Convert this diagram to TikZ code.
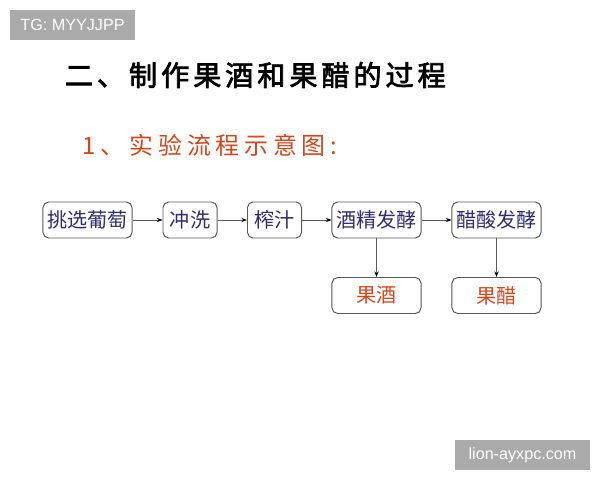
\documentclass[tikz,border=0pt]{standalone}
\usepackage{fontspec}
\setmainfont{Liberation Sans}
\newfontfamily\cjk{Noto Sans CJK SC}
\newfontfamily\cjkheavy[FakeBold=2.5,LetterSpace=14]{Noto Sans CJK SC}
\newfontfamily\cjkspaced[LetterSpace=20]{Noto Sans CJK SC}
\usetikzlibrary{arrows.meta}
\definecolor{navy}{HTML}{2E2D6E}
\definecolor{rust}{HTML}{D2471C}
\definecolor{edge}{HTML}{5A5A5A}
\definecolor{mark}{HTML}{AAAAAA}
\tikzset{
  paso/.style={draw=edge, line width=0.7pt, rounded corners=4pt, minimum height=0.9cm, inner sep=0pt, text=navy, font=\cjk\fontsize{14.3}{16}\selectfont},
  ancho/.style={paso, minimum width=2.225cm},
  corto/.style={paso, minimum width=1.35cm},
  producto/.style={ancho, text=rust},
  flecha/.style={draw=edge, line width=0.6pt, -{Stealth[length=4pt,width=3pt,color=black]}},
  sello/.style={fill=mark, text=white, inner sep=0pt, font=\fontsize{11.5}{13}\selectfont}
}
\begin{document}
\begin{tikzpicture}[x=0.025cm, y=-0.025cm]
    \useasboundingbox[fill=white] (0,0) rectangle (600,480);

    \node[sello, minimum width=3.125cm, minimum height=0.75cm] (tg) at (72.5,25) {TG: MYYJJPP};
    \node[sello, minimum width=3.375cm, minimum height=0.75cm] (web) at (522.5,455) {lion-ayxpc.com};

    \node[anchor=west, font=\cjkheavy\fontsize{20}{24}\selectfont] (titulo) at (60,75) {二、制作果酒和果醋的过程};
    \node[anchor=west, text=rust, font=\cjkspaced\fontsize{17}{20}\selectfont] (subtitulo) at (78,145) {1、实验流程示意图:};

    \node[ancho] (tiao) at (87.5,220) {挑选葡萄};
    \node[corto] (chong) at (190,220) {冲洗};
    \node[corto] (zha) at (274.5,220) {榨汁};
    \node[ancho] (jiu) at (376.5,220) {酒精发酵};
    \node[ancho] (cu) at (496.5,220) {醋酸发酵};
    \node[producto] (guojiu) at (376.5,295.5) {果酒};
    \node[producto] (guocu) at (496.5,295.5) {果醋};

    \draw[flecha] (tiao.east) -- (chong.west);
    \draw[flecha] (chong.east) -- (zha.west);
    \draw[flecha] (zha.east) -- (jiu.west);
    \draw[flecha] (jiu.east) -- (cu.west);
    \draw[flecha] (jiu.south) -- (guojiu.north);
    \draw[flecha] (cu.south) -- (guocu.north);
\end{tikzpicture}
\end{document}
